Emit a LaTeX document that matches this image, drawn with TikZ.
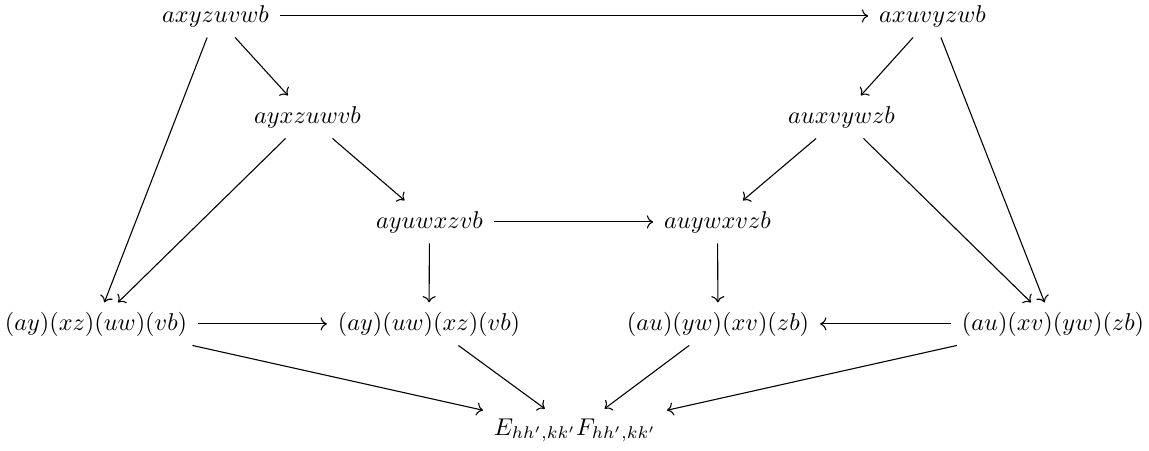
\documentclass[tikz,border=0pt]{standalone}
\usepackage{amsmath}
\usetikzlibrary{arrows.meta}
\begin{document}
\begin{tikzpicture}[x=0.412pt,y=-0.412pt,
  cell/.style={anchor=base, inner xsep=1ex, inner ysep=0.85ex, text height=7.5pt, text depth=2.5pt},
  arr/.style={-{Computer Modern Rightarrow}, line width=0.45pt}]
\useasboundingbox (0,0) rectangle (1149,450);
\node[cell] (A) at (215.5,22) {$axyzuvwb$};
\node[cell] (B) at (932.5,22) {$axuvyzwb$};
\node[cell] (C) at (307.5,123) {$ayxzuwvb$};
\node[cell] (D) at (841.5,123) {$auxvywzb$};
\node[cell] (E) at (429.5,228) {$ayuwxzvb$};
\node[cell] (F) at (717.5,228) {$auywxvzb$};
\node[cell] (G) at (96,330) {$(ay)(xz)(uw)(vb)$};
\node[cell] (H) at (429,330) {$(ay)(uw)(xz)(vb)$};
\node[cell] (I) at (718,330) {$(au)(yw)(xv)(zb)$};
\node[cell] (J) at (1053,330) {$(au)(xv)(yw)(zb)$};
\node[cell, text height=7pt, text depth=3.5pt] (K) at (575,435) {$E_{hh',kk'}F_{hh',kk'}$};
\draw[arr] (A) -- (B);
\draw[arr] (A) -- (C);
\draw[arr] (A) -- (G);
\draw[arr] (C) -- (E);
\draw[arr] (C) -- (G);
\draw[arr] (B) -- (D);
\draw[arr] (B) -- (J);
\draw[arr] (D) -- (F);
\draw[arr] (D) -- (J);
\draw[arr] (E) -- (F);
\draw[arr] (E) -- (H);
\draw[arr] (F) -- (I);
\draw[arr] (G) -- (H);
\draw[arr] (J) -- (I);
\draw[arr] (G) -- (K);
\draw[arr] (H) -- (K);
\draw[arr] (I) -- (K);
\draw[arr] (J) -- (K);
\end{tikzpicture}
\end{document}
